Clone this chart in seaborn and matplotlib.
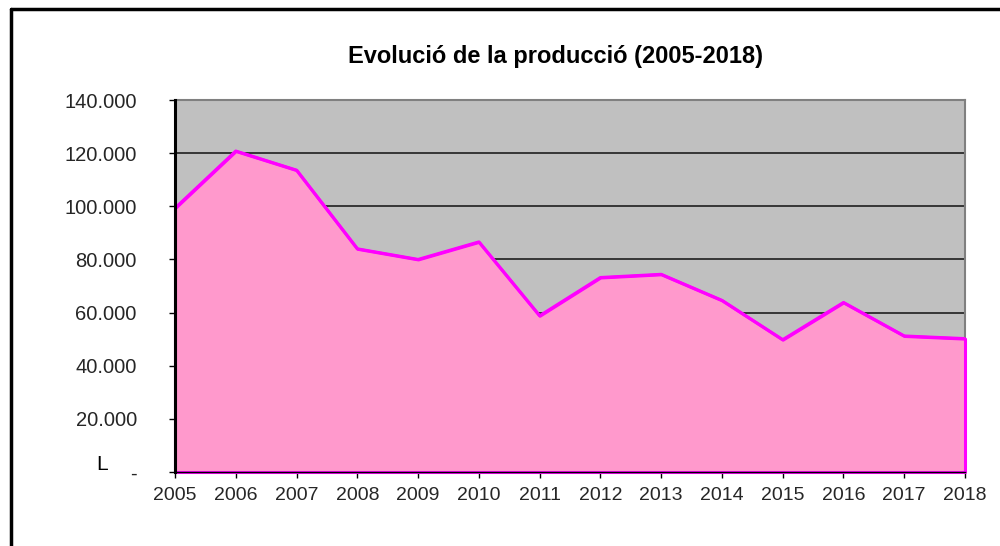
import matplotlib
matplotlib.use("Agg")
import matplotlib.pyplot as plt
import seaborn as sns
import pandas as pd
from matplotlib.lines import Line2D

years = [2005, 2006, 2007, 2008, 2009, 2010, 2011, 2012, 2013, 2014, 2015, 2016, 2017, 2018]
production = [99300, 120800, 113600, 84000, 80000, 86600, 58800, 73200, 74400, 64600, 49800, 63800, 51200, 50200]
y_ticks = [0, 20000, 40000, 60000, 80000, 100000, 120000, 140000]
y_tick_labels = ["-", "20.000", "40.000", "60.000", "80.000", "100.000", "120.000", "140.000"]
title = "Evolució de la producció (2005-2018)"
unit_label = "L"

sns.set_theme(style="white")
plt.rcParams['font.family'] = ['Liberation Sans', 'DejaVu Sans']

df = pd.DataFrame({"year": years, "production": production})

fig = plt.figure(figsize=(10, 5.46), dpi=100)
ax = fig.add_axes([0.175, 1 - 472 / 546, 0.79, (472 - 100) / 546])
ax.set_facecolor("#C0C0C0")

ax.fill_between(df["year"], df["production"], 0, facecolor="#FF99CC",
                edgecolor="#FF00FF", linewidth=2.2, zorder=2, clip_on=False)
sns.lineplot(data=df, x="year", y="production", ax=ax, color="#FF00FF",
             linewidth=2.2, zorder=3)

ax.set_xlim(years[0], years[-1])
ax.set_ylim(0, 140000)
ax.set_xticks(years)
ax.set_xticklabels([str(y) for y in years])
ax.set_yticks(y_ticks)
ax.set_yticklabels(y_tick_labels)
ax.set_xlabel("")
ax.set_ylabel("")

ax.grid(axis="y", color="#111111", linewidth=1.1, zorder=1)
ax.set_axisbelow(True)
ax.grid(axis="x", visible=False)

for side in ["top", "right"]:
    ax.spines[side].set_color("#808080")
    ax.spines[side].set_linewidth(1.5)
ax.spines["left"].set_color("#000000")
ax.spines["left"].set_linewidth(2.2)
ax.spines["bottom"].set_color("#000000")
ax.spines["bottom"].set_linewidth(1.0)
ax.spines["left"].set_zorder(4)
ax.spines["bottom"].set_zorder(4)
ax.spines["top"].set_zorder(1.5)
ax.spines["right"].set_zorder(1.5)

ax.tick_params(axis="y", direction="out", length=4.5, width=1.0, color="black",
               pad=23, labelsize=14.5, left=True)
ax.tick_params(axis="x", direction="out", length=4.5, width=1.0, color="black",
               pad=6, labelsize=14, bottom=True)

fig.text(0.556, 1 - 56 / 546, title, ha="center", va="center",
         fontsize=17, fontweight="bold", color="black")
fig.text(0.102, 1 - 465 / 546, unit_label, ha="center", va="center",
         fontsize=15, color="black")

# outer frame (left and top)
fig.add_artist(Line2D([11 / 1000, 11 / 1000], [0, 1 - 8.5 / 546],
                      transform=fig.transFigure, color="black", linewidth=2.5))
fig.add_artist(Line2D([11 / 1000, 1], [1 - 8.5 / 546, 1 - 8.5 / 546],
                      transform=fig.transFigure, color="black", linewidth=2.5))

fig.savefig("out.png", dpi=100)
